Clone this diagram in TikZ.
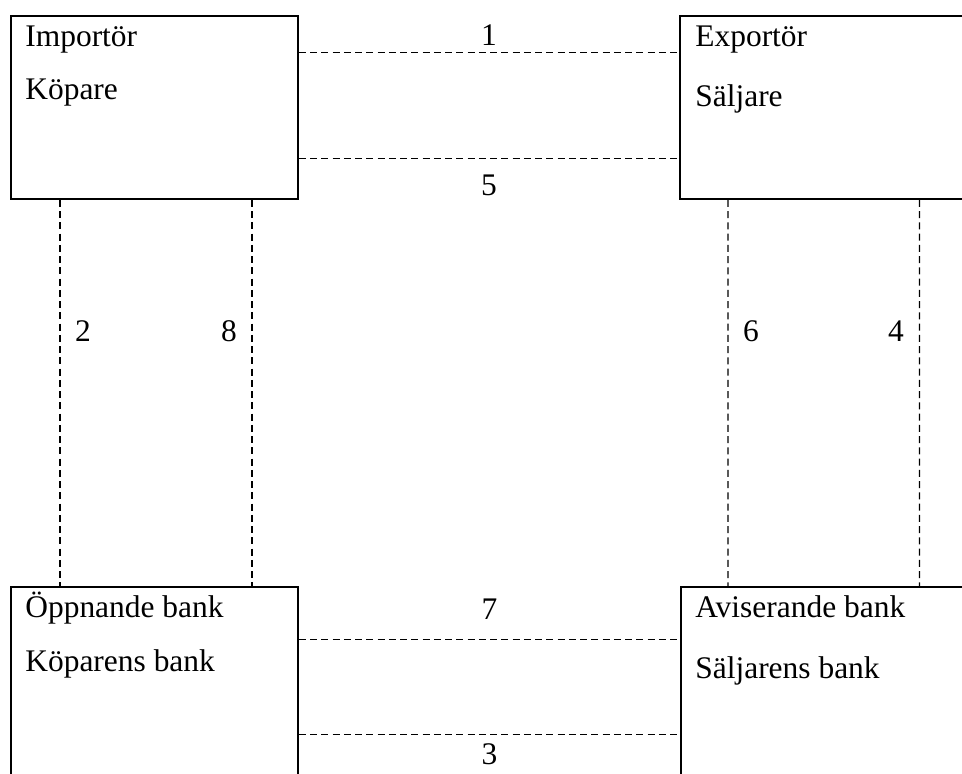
\documentclass[tikz,border=0pt]{standalone}
\usepackage{fontspec}
\setmainfont{Liberation Serif}
\usepackage{tikz}
\tikzset{
    party/.style={draw, line width=1.1pt, inner sep=0pt, minimum width=5.74cm},
    txt/.style={anchor=base west, inner sep=0pt, font=\fontsize{17.9}{20}\selectfont},
    link/.style={line width=0.75pt, dash pattern=on 4pt off 2.4pt},
    num/.style={inner sep=0pt, font=\fontsize{17.9}{20}\selectfont}
}
\begin{document}
\begin{tikzpicture}[scale=1]
    \clip (0,0) rectangle (19.24,15.48);
    \fill[white] (0,0) rectangle (19.24,15.48);

    % Parties
    \node[party, minimum height=3.66cm] (imp) at (3.09,13.33) {};
    \node[party, minimum width=5.8cm, minimum height=3.66cm] (exp) at (16.5,13.33) {};
    \node[party, minimum height=4.34cm] (opb) at (3.09,1.57) {};
    \node[party, minimum width=5.78cm, minimum height=4.34cm] (avb) at (16.51,1.57) {};

    % Texts in the boxes
    \node[txt] (impA) at (0.5,14.55) {Importör};
    \node[txt] (impB) at (0.5,13.48) {Köpare};
    \node[txt] (expA) at (13.9,14.55) {Exportör};
    \node[txt] (expB) at (13.9,13.34) {Säljare};
    \node[txt] (opbA) at (0.5,3.13) {Öppnande bank};
    \node[txt] (opbB) at (0.5,2.05) {Köparens bank};
    \node[txt] (avbA) at (13.9,3.13) {Aviserande bank};
    \node[txt] (avbB) at (13.9,1.91) {Säljarens bank};

    % Horizontal steps
    \draw[link] ([yshift=-0.75cm]imp.north east) -- ([yshift=-0.75cm]exp.north west)
        node[num, midway, yshift=0.35cm] {1};
    \draw[link] ([yshift=-2.87cm]imp.north east) -- ([yshift=-2.87cm]exp.north west)
        node[num, midway, yshift=-0.53cm] {5};
    \draw[link] ([yshift=-1.07cm]opb.north east) -- ([yshift=-1.07cm]avb.north west)
        node[num, midway, yshift=0.61cm] {7};
    \draw[link] ([yshift=-2.97cm]opb.north east) -- ([yshift=-2.97cm]avb.north west)
        node[num, midway, yshift=-0.39cm] {3};

    % Vertical steps
    \draw[link] ([xshift=1cm]imp.south west) -- ([xshift=1cm]opb.north west)
        node[num, pos=0.34, xshift=0.46cm] {2};
    \draw[link] ([xshift=4.84cm]imp.south west) -- ([xshift=4.84cm]opb.north west)
        node[num, pos=0.34, xshift=-0.46cm] {8};
    \draw[link] ([xshift=0.98cm]exp.south west) -- ([xshift=0.96cm]avb.north west)
        node[num, pos=0.34, xshift=0.46cm] {6};
    \draw[link] ([xshift=4.81cm]exp.south west) -- ([xshift=4.79cm]avb.north west)
        node[num, pos=0.34, xshift=-0.47cm] {4};
\end{tikzpicture}
\end{document}
